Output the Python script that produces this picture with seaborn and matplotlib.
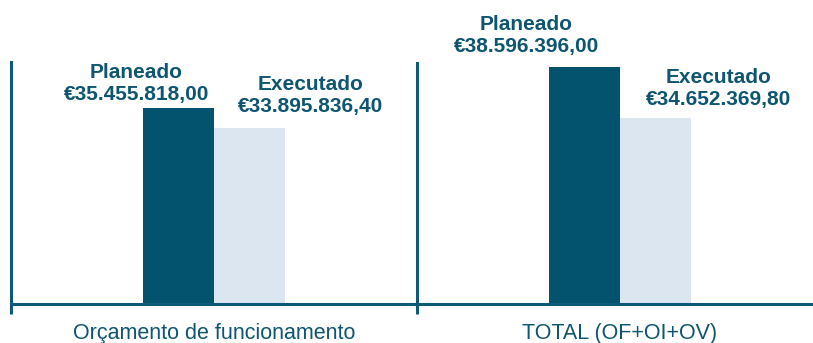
import matplotlib
matplotlib.use("Agg")
import matplotlib.pyplot as plt
import seaborn as sns
import pandas as pd

# Budget figures (euros)
categorias = ["Orçamento de funcionamento", "TOTAL (OF+OI+OV)"]
series = ["Planeado", "Executado"]
planeado = [35455818.00, 38596396.00]
executado = [33895836.40, 34652369.80]


def fmt_eur(v):
    s = f"{v:,.2f}"
    s = s.replace(",", "X").replace(".", ",").replace("X", ".")
    return "€" + s


df = pd.DataFrame({
    "categoria": categorias * 2,
    "serie": [series[0]] * 2 + [series[1]] * 2,
    "valor": planeado + executado,
})

sns.set_theme(style="white")
plt.rcParams["font.family"] = ["Liberation Sans", "DejaVu Sans"]

dark = "#04536E"
light = "#DCE6F1"
line_c = "#0E5A76"
text_c = "#0D5571"

fig = plt.figure(figsize=(8.13, 3.43), dpi=100)
W, H = 813, 343
ax = fig.add_axes([11 / W, (H - 304) / H, 812 / W, (304 - 62) / H])

sns.barplot(data=df, x="categoria", y="valor", hue="serie",
            palette=[dark, light], width=0.35, ax=ax, legend=False,
            saturation=1, linewidth=0)

ax.set_xlim(-0.5, 1.5)
ax.set_ylim(20.35e6, 38.97e6)
ax.set_xlabel("")
ax.set_ylabel("")
ax.set_yticks([])

for side in ["top", "right"]:
    ax.spines[side].set_visible(False)
for side in ["left", "bottom"]:
    ax.spines[side].set_color(line_c)
    ax.spines[side].set_linewidth(2.2)

# group separator
ax.axvline(0.5, color=line_c, lw=2.2)

ax.set_xticks([0, 1])
ax.set_xticklabels(categorias, fontsize=15.5, color=text_c)
ax.tick_params(axis="x", which="major", bottom=True, length=0, pad=14)
ax.set_xticks([-0.5, 0.5], minor=True)
ax.tick_params(axis="x", which="minor", bottom=True, length=7, width=2.2,
               color=line_c, direction="out")

# data labels, pixel offsets from each bar top
offsets = {
    (0, 0): (-42, 4), (0, 1): (61, 12),
    (1, 0): (-58, 11), (1, 1): (63, 9),
}
for si, cont in enumerate(ax.containers):
    for ci, bar in enumerate(cont):
        val = bar.get_height()
        xc = bar.get_x() + bar.get_width() / 2
        dx, dy = offsets[(ci, si)]
        ax.annotate(f"{series[si]}\n{fmt_eur(val)}", xy=(xc, val),
                    xytext=(dx, dy), textcoords="offset pixels",
                    ha="center", va="bottom", fontsize=15,
                    fontweight="bold", color=text_c, linespacing=1.2,
                    annotation_clip=False)

fig.savefig("out.png", dpi=100)
